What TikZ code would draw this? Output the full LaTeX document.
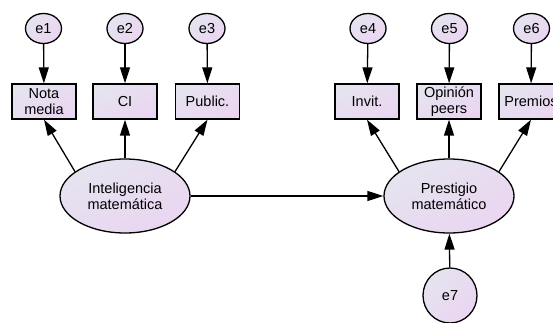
\documentclass[tikz,border=0pt]{standalone}
\usepackage{fontspec}
\setmainfont{Liberation Sans}
\usetikzlibrary{shapes.geometric,arrows.meta,shadings}
\definecolor{fillA}{HTML}{E4E7EF}
\definecolor{fillB}{HTML}{EBD3F1}
\tikzset{
  shaded/.style={draw=black, line width=1.3pt, upper left=fillA, lower right=fillB,
    upper right=fillB!55!fillA, lower left=fillB!55!fillA},
  errnode/.style={shaded, ellipse, minimum width=36pt, minimum height=30pt, inner sep=0pt},
  bigerr/.style={shaded, ellipse, minimum width=54pt, minimum height=55pt, inner sep=0pt},
  obsbox/.style={shaded, rectangle, minimum width=64pt, minimum height=35pt, inner sep=0pt,
    align=center},
  latent/.style={shaded, ellipse, minimum width=130pt, minimum height=74pt, inner sep=0pt,
    align=center},
  conn/.style={line width=1.3pt, -{Triangle[length=16pt,width=10pt]}},
  every node/.style={font=\fontsize{14.5pt}{16pt}\selectfont}
}
\begin{document}
\begin{tikzpicture}[x=1pt,y=-1pt]
  \useasboundingbox (0,0) rectangle (553,323);
  \clip (0,0) rectangle (553,323);

  % measurement error terms
  \node[errnode] (e1) at (43.5,28.5) {e1};
  \node[errnode] (e2) at (125,28.5) {e2};
  \node[errnode] (e3) at (207,28.5) {e3};
  \node[errnode] (e4) at (368,28.5) {e4};
  \node[errnode] (e5) at (449.5,28.5) {e5};
  \node[errnode] (e6) at (531.5,28.5) {e6};

  % observed indicators
  \node[obsbox] (nota) at (44,101.5) {Nota\\media};
  \node[obsbox] (ci) at (125,101.5) {CI};
  \node[obsbox] (pub) at (207.5,101.5) {Public.};
  \node[obsbox] (inv) at (367,101.5) {Invit.};
  \node[obsbox] (opi) at (449,101.5) {Opinión\\peers};
  \node[obsbox] (pre) at (531,101.5) {Premios};

  % latent variables
  \node[latent] (intel) at (125,196) {Inteligencia\\matemática};
  \node[latent] (prest) at (449,196) {Prestigio\\matemático};

  % structural disturbance
  \node[bigerr] (e7) at (450,295.5) {e7};

  % error paths
  \draw[conn] (e1) -- (nota);
  \draw[conn] (e2) -- (ci);
  \draw[conn] (e3) -- (pub);
  \draw[conn] (e4) -- (inv);
  \draw[conn] (e5) -- (opi);
  \draw[conn] (e6) -- (pre);
  \draw[conn] (e7) -- (prest);

  % loadings
  \draw[conn] (intel.154) -- (nota.south);
  \draw[conn] (intel) -- (ci);
  \draw[conn] (intel.26) -- (pub.south);
  \draw[conn] (prest.154) -- (inv.south);
  \draw[conn] (prest) -- (opi);
  \draw[conn] (prest.26) -- (pre.south);

  % structural path
  \draw[conn] (intel) -- (prest);
\end{tikzpicture}
\end{document}
